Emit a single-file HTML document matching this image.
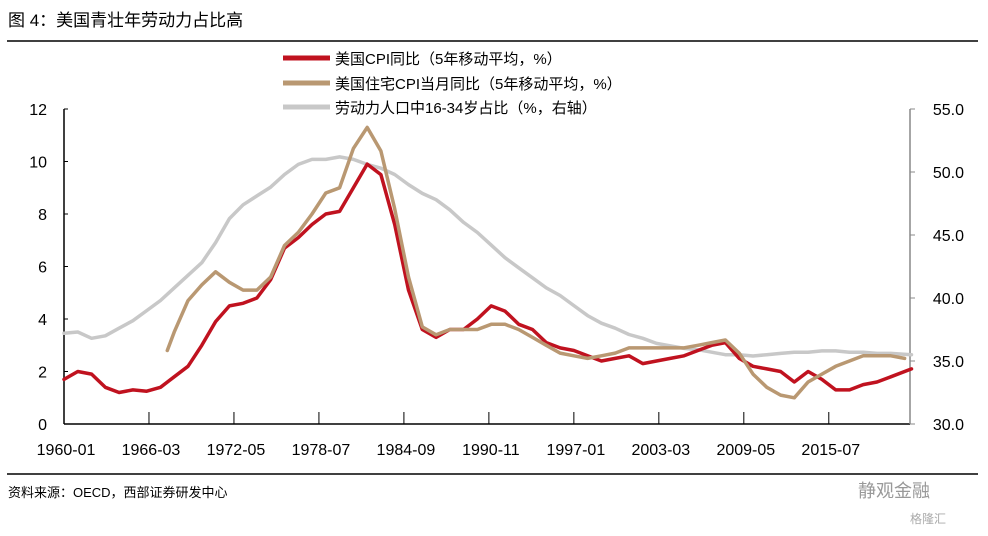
<!DOCTYPE html>
<html><head><meta charset="utf-8"><style>
body{margin:0;background:#fff;width:988px;height:531px;overflow:hidden;font-family:"Liberation Sans","Noto Sans CJK SC",sans-serif;}
svg text{font-family:"Liberation Sans","Noto Sans CJK SC",sans-serif;}
</style></head><body>
<svg id="c" width="988" height="531">
<text x="8" y="26" font-size="17" font-family="'Noto Serif CJK SC',serif">图 4：美国青壮年劳动力占比高</text>
<line x1="7" y1="41" x2="978" y2="41" stroke="#000" stroke-width="1.5"/>
<line x1="7" y1="474" x2="978" y2="474" stroke="#000" stroke-width="1.5"/>
<text x="8" y="497" font-size="13">资料来源：OECD，西部证券研发中心</text>
<text x="858" y="497" font-size="18" fill="#999">静观金融</text>
<text x="910" y="523" font-size="12" fill="#aaa">格隆汇</text>
<g id="legend">
<line x1="283" y1="58" x2="330" y2="58" stroke="#c0121f" stroke-width="5"/>
<text x="335" y="64" font-size="15">美国CPI同比（5年移动平均，%）</text>
<line x1="283" y1="83" x2="330" y2="83" stroke="#b99872" stroke-width="5"/>
<text x="335" y="89" font-size="15">美国住宅CPI当月同比（5年移动平均，%）</text>
<line x1="283" y1="107" x2="330" y2="107" stroke="#c8c8c8" stroke-width="5"/>
<text x="335" y="113" font-size="15">劳动力人口中16-34岁占比（%，右轴）</text>
</g>
<g id="axes"></g>
<g id="series"></g>
</svg>
<script>
const cpiYears=[1960,1961,1962,1963,1964,1965,1966,1967,1968,1969,1970,1971,1972,1973,1974,1975,1976,1977,1978,1979,1980,1981,1982,1983,1984,1985,1986,1987,1988,1989,1990,1991,1992,1993,1994,1995,1996,1997,1998,1999,2000,2001,2002,2003,2004,2005,2006,2007,2008,2009,2010,2011,2012,2013,2014,2015,2016,2017,2018,2019,2020,2021.5];
const cpiValues=[1.7,2.0,1.9,1.4,1.2,1.3,1.25,1.4,1.8,2.2,3.0,3.9,4.5,4.6,4.8,5.5,6.7,7.1,7.6,8.0,8.1,9.0,9.9,9.5,7.6,5.1,3.6,3.3,3.6,3.6,4.0,4.5,4.3,3.8,3.6,3.1,2.9,2.8,2.6,2.4,2.5,2.6,2.3,2.4,2.5,2.6,2.8,3.0,3.1,2.5,2.2,2.1,2.0,1.6,2.0,1.7,1.3,1.3,1.5,1.6,1.8,2.1];
const houseYears=[1967.5,1968,1969,1970,1971,1972,1973,1974,1975,1976,1977,1978,1979,1980,1981,1982,1983,1984,1985,1986,1987,1988,1989,1990,1991,1992,1993,1994,1995,1996,1997,1998,1999,2000,2001,2002,2003,2004,2005,2006,2007,2008,2009,2010,2011,2012,2013,2014,2015,2016,2017,2018,2019,2020,2021];
const houseValues=[2.8,3.5,4.7,5.3,5.8,5.4,5.1,5.1,5.6,6.8,7.3,8.0,8.8,9.0,10.5,11.3,10.4,8.2,5.6,3.7,3.4,3.6,3.6,3.6,3.8,3.8,3.6,3.3,3.0,2.7,2.6,2.5,2.6,2.7,2.9,2.9,2.9,2.9,2.9,3.0,3.1,3.2,2.7,1.9,1.4,1.1,1.0,1.6,1.9,2.2,2.4,2.6,2.6,2.6,2.5];
const laborYears=[1960,1961,1962,1963,1964,1965,1966,1967,1968,1969,1970,1971,1972,1973,1974,1975,1976,1977,1978,1979,1980,1981,1982,1983,1984,1985,1986,1987,1988,1989,1990,1991,1992,1993,1994,1995,1996,1997,1998,1999,2000,2001,2002,2003,2004,2005,2006,2007,2008,2009,2010,2011,2012,2013,2014,2015,2016,2017,2018,2019,2020,2021.5];
const laborValues=[37.2,37.3,36.8,37.0,37.6,38.2,39.0,39.8,40.8,41.8,42.8,44.4,46.3,47.4,48.1,48.8,49.8,50.6,51.0,51.0,51.2,51.0,50.6,50.3,49.8,49.0,48.3,47.8,47.0,46.0,45.2,44.2,43.2,42.4,41.6,40.8,40.2,39.4,38.6,38.0,37.6,37.1,36.8,36.4,36.2,36.0,35.9,35.7,35.5,35.5,35.4,35.5,35.6,35.7,35.7,35.8,35.8,35.7,35.7,35.6,35.6,35.5];
const xTickLabels=["1960-01","1966-03","1972-05","1978-07","1984-09","1990-11","1997-01","2003-03","2009-05","2015-07"];
const leftTicks=[0,2,4,6,8,10,12];
const rightTicks=[30,35,40,45,50,55];
const ns="http://www.w3.org/2000/svg";
const X0=64,X1=910,Y0=424,Y1=109;
const xs=y=>X0+(y-1960)*13.78;
const yl=v=>Y0-(v/12)*(Y0-Y1);
const yr=v=>Y0-((v-30)/25)*(Y0-Y1);
function mk(tag,attrs,parent){const e=document.createElementNS(ns,tag);for(const k in attrs)e.setAttribute(k,attrs[k]);parent.appendChild(e);return e;}
const ax=document.getElementById('axes');
let e=mk('line',{x1:X0,y1:Y1,x2:X0,y2:Y0,stroke:'#000','stroke-width':1.5},ax);


e=mk('line',{x1:X0,y1:Y0,x2:X1,y2:Y0,stroke:'#000','stroke-width':1.5},ax);


e=mk('line',{x1:X1,y1:Y1,x2:X1,y2:Y0,stroke:'#888','stroke-width':1.5},ax);


leftTicks.forEach(v=>{
 let t=mk('line',{x1:X0,x2:X0+4,y1:yl(v),y2:yl(v),stroke:'#000'},ax);
 
 
 let l=mk('text',{x:X0-17,y:yl(v)+6,'font-size':16,'text-anchor':'end'},ax);l.textContent=v;
 
 
});
rightTicks.forEach(v=>{
 let t=mk('line',{x1:X1,x2:X1+5,y1:yr(v),y2:yr(v),stroke:'#888'},ax);
 
 
 let l=mk('text',{x:X1+54,y:yr(v)+6,'font-size':16,'text-anchor':'end'},ax);l.textContent=v.toFixed(1);
 
 
});
xTickLabels.forEach((s,i)=>{
 const yr0=parseInt(s.slice(0,4))+(parseInt(s.slice(5))-1)/12;
 const x=xs(yr0);
 let t=mk('line',{x1:x,x2:x,y1:Y0,y2:Y0-12,stroke:'#000'},ax);
 
 
 let l=mk('text',{x:x+2,y:Y0+31,'font-size':16,'text-anchor':'middle'},ax);l.textContent=s;
 
 
});
const sg=document.getElementById('series');
function line(ys,vs,fy,color,name){
 const p=ys.map((y,i)=>(i?'L':'M')+xs(y).toFixed(1)+','+fy(vs[i]).toFixed(1)).join('');
 const el=mk('path',{d:p,fill:'none',stroke:color,'stroke-width':3.5,'stroke-linejoin':'round','stroke-linecap':'round'},sg);
 
 
}
line(laborYears,laborValues,yr,'#c8c8c8','labor-share-line');
line(cpiYears,cpiValues,yl,'#c0121f','cpi-line');
line(houseYears,houseValues,yl,'#b99872','housing-cpi-line');
</script>
</body></html>
